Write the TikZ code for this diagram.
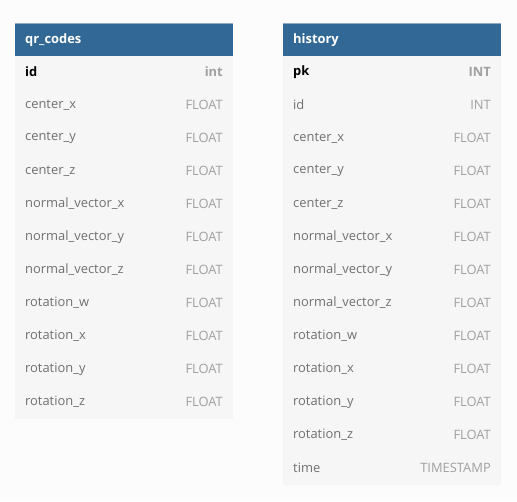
\documentclass[tikz,border=0pt]{standalone}
\usepackage{fontspec}
\setmainfont{Open Sans}
\usepackage{xcolor}
\usepackage{tikz}
\usetikzlibrary{positioning}

\definecolor{headblue}{RGB}{49,104,150}
\definecolor{headline}{RGB}{140,172,204}
\definecolor{rowbg}{RGB}{246,246,246}
\definecolor{pagebg}{RGB}{252,252,252}
\definecolor{namegray}{RGB}{112,112,112}
\definecolor{typegray}{RGB}{160,160,160}

\begin{document}
\begin{tikzpicture}[
    x=1pt, y=-1pt,
    every node/.style={font=\fontsize{12.9}{14}\selectfont, inner sep=0pt},
    title/.style={font=\fontsize{12.9}{14}\selectfont\bfseries, text=white, anchor=west},
    colname/.style={text=namegray, anchor=west},
    coltype/.style={text=typegray, anchor=east},
    keyname/.style={text=black, font=\fontsize{12.9}{14}\selectfont\bfseries, anchor=west},
    keytype/.style={text=typegray, font=\fontsize{12.9}{14}\selectfont\bfseries, anchor=east}
  ]

  % page and margins (517 x 501 px)
  \fill[pagebg] (0,0) rectangle (517,501);
  \useasboundingbox (0,0) rectangle (517,501);

  % ── qr_codes (left) ─────────────────────────────────────────────────────
  % header 23..56, rows of 33px down to 419
  \begin{scope}[xshift=15pt]
    \fill[rowbg] (0,56) rectangle (218,419);
    \fill[headblue] (0,23) rectangle (218,56);
    \draw[headline, line width=1.2pt] (0,23.6) -- (218,23.6);
    \node[title] (qrtitle) at (10,40.5) {qr\_codes};

    \node[keyname] (qrn1) at (10,72) {id};
    \node[keytype] (qrt1) at (208,72) {int};
    \foreach \name [count=\i from 2] in {center\_x, center\_y, center\_z,
        normal\_vector\_x, normal\_vector\_y, normal\_vector\_z,
        rotation\_w, rotation\_x, rotation\_y, rotation\_z} {
      \node[colname] (qrn\i) at (10,39+33*\i) {\name};
      \node[coltype] (qrt\i) at (208,39+33*\i) {FLOAT};
    }
  \end{scope}

  % ── history (right) ─────────────────────────────────────────────────────
  % same header, 13 rows down to 485
  \begin{scope}[xshift=283pt]
    \fill[rowbg] (0,56) rectangle (218,485);
    \fill[headblue] (0,23) rectangle (218,56);
    \draw[headline, line width=1.2pt] (0,23.6) -- (218,23.6);
    \node[title] (histitle) at (10,40.5) {history};

    \node[keyname] (hin1) at (10,72) {pk};
    \node[keytype] (hit1) at (208,72) {INT};
    \node[colname] (hin2) at (10,105) {id};
    \node[coltype] (hit2) at (208,105) {INT};
    \foreach \name [count=\i from 3] in {center\_x, center\_y, center\_z,
        normal\_vector\_x, normal\_vector\_y, normal\_vector\_z,
        rotation\_w, rotation\_x, rotation\_y, rotation\_z} {
      \node[colname] (hin\i) at (10,39+33*\i) {\name};
      \node[coltype] (hit\i) at (208,39+33*\i) {FLOAT};
    }
    \node[colname] (hin13) at (10,468) {time};
    \node[coltype] (hit13) at (208,468) {TIMESTAMP};
  \end{scope}

\end{tikzpicture}
\end{document}
